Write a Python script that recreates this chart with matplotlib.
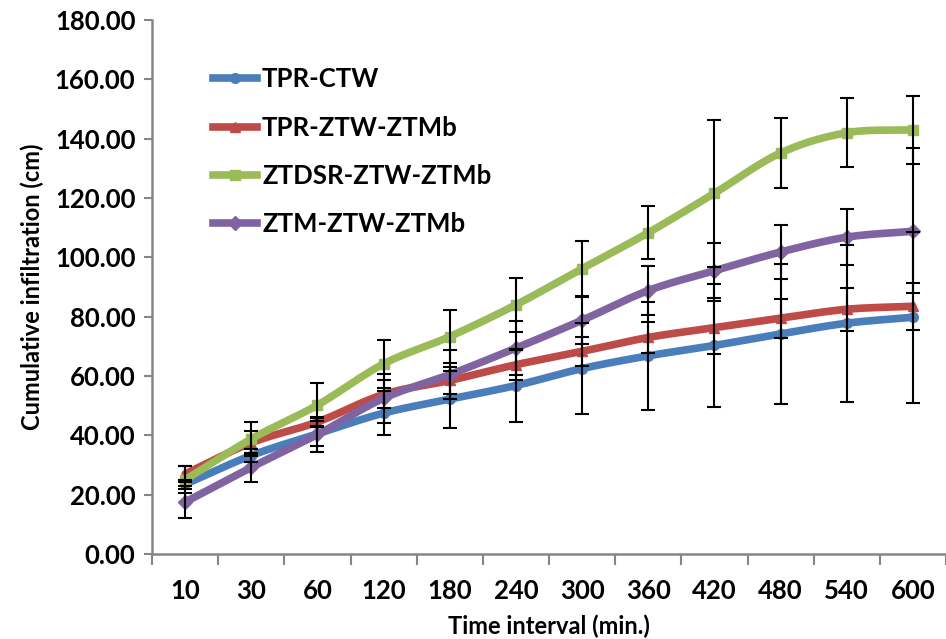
import numpy as np
import matplotlib
matplotlib.use("Agg")
import matplotlib.pyplot as plt

plt.rcParams['font.family'] = ['Lato', 'DejaVu Sans']
plt.rcParams['font.weight'] = 'bold'

# time intervals (categories)
times = ["10", "30", "60", "120", "180", "240", "300", "360", "420", "480", "540", "600"]

tpr_ctw = [23.5, 33.2, 40.5, 47.5, 52.2, 56.8, 62.5, 66.8, 70.3, 74.2, 77.8, 79.8]
tpr_ctw_err = [1.5, 2.1, 4.2, 7.4, 9.6, 12.4, 15.3, 18.2, 20.6, 23.6, 26.4, 28.9]

tpr_ztw = [27.0, 37.5, 44.5, 53.8, 58.5, 63.8, 68.3, 73.0, 76.3, 79.5, 82.5, 83.5]
tpr_ztw_err = [2.7, 3.8, 1.5, 4.7, 4.7, 5.0, 5.0, 5.3, 9.0, 6.6, 7.2, 8.0]

ztdsr = [25.0, 38.8, 50.2, 64.1, 73.3, 84.0, 96.2, 108.3, 121.6, 135.2, 142.0, 143.0]
ztdsr_err = [4.6, 5.8, 7.4, 8.1, 8.8, 9.0, 9.2, 9.0, 24.8, 11.8, 11.6, 11.4]

ztm = [17.5, 29.2, 40.3, 52.5, 60.5, 69.4, 78.8, 88.8, 95.5, 101.8, 106.8, 108.8]
ztm_err_lo = [5.5, 4.8, 6.0, 8.2, 8.4, 9.0, 8.0, 8.3, 9.3, 9.0, 9.4, 20.8]
ztm_err_hi = [5.5, 4.8, 6.0, 8.2, 8.4, 9.0, 8.0, 8.3, 9.3, 9.0, 9.4, 28.2]

series = [
    ("TPR-CTW", tpr_ctw, [tpr_ctw_err, tpr_ctw_err], "#4A7EBB", "o"),
    ("TPR-ZTW-ZTMb", tpr_ztw, [tpr_ztw_err, tpr_ztw_err], "#BE4B48", "^"),
    ("ZTDSR-ZTW-ZTMb", ztdsr, [ztdsr_err, ztdsr_err], "#9BBB59", "s"),
    ("ZTM-ZTW-ZTMb", ztm, [ztm_err_lo, ztm_err_hi], "#8064A2", "D"),
]


def smooth(x, y, n=24):
    # catmull-rom through the points, like excel's smoothed line
    x = np.asarray(x, float)
    y = np.asarray(y, float)
    px = np.concatenate([[2 * x[0] - x[1]], x, [2 * x[-1] - x[-2]]])
    py = np.concatenate([[2 * y[0] - y[1]], y, [2 * y[-1] - y[-2]]])
    xs, ys = [], []
    t = np.linspace(0, 1, n, endpoint=False)
    for i in range(1, len(px) - 2):
        for p, out in ((px, xs), (py, ys)):
            p0, p1, p2, p3 = p[i - 1], p[i], p[i + 1], p[i + 2]
            out.extend(0.5 * (2 * p1 + (-p0 + p2) * t
                              + (2 * p0 - 5 * p1 + 4 * p2 - p3) * t ** 2
                              + (-p0 + 3 * p1 - 3 * p2 + p3) * t ** 3))
    xs.append(x[-1])
    ys.append(y[-1])
    return np.array(xs), np.array(ys)


fig = plt.figure(figsize=(9.46, 6.39), dpi=100)
ax = fig.add_axes([0.1607, 0.133, 0.8393, 0.8357])

x = np.arange(len(times))
for name, vals, err, col, mk in series:
    sx, sy = smooth(x, vals)
    ax.plot(sx, sy, color=col, lw=5.5, solid_capstyle='round', zorder=2)
    ax.plot(x, vals, ls='none', marker=mk, color=col, ms=7, zorder=2)
    ax.plot([], [], color=col, lw=5.5, marker=mk, ms=7, label=name)
    ax.errorbar(x, vals, yerr=err, fmt='none', ecolor='black', elinewidth=1.5,
                capsize=5, capthick=1.5, zorder=3)

ax.set_xlim(-0.5, len(times) - 0.5)
ax.set_ylim(0, 180)
ax.set_yticks(np.arange(0, 181, 20))
ax.set_yticklabels([f"{v:.2f}" for v in np.arange(0, 181, 20)])
ax.set_xticks(np.arange(-0.5, len(times), 1.0))
ax.set_xticklabels([])
ax.set_xticks(x, minor=True)
ax.set_xticklabels(times, minor=True)
ax.tick_params(axis='x', which='minor', length=0, pad=18, labelsize=18.5)
ax.tick_params(axis='x', which='major', length=8, width=1.5, color='#868686')
ax.tick_params(axis='y', length=6, width=1.5, color='#868686', labelsize=18.5, pad=6)

for s in ['top', 'right']:
    ax.spines[s].set_visible(False)
for s in ['left', 'bottom']:
    ax.spines[s].set_color('#868686')
    ax.spines[s].set_linewidth(1.8)

ax.set_xlabel("Time interval (min.)", fontsize=17, fontweight='bold', labelpad=8)
ax.set_ylabel("Cumulative infiltration (cm)", fontsize=17, fontweight='bold', labelpad=8)

leg = ax.legend(loc='upper left', bbox_to_anchor=(0.048, 0.955), frameon=False,
                fontsize=18.5, handlelength=1.7, labelspacing=0.95, handletextpad=0.2)

fig.savefig("out.png", dpi=100)
